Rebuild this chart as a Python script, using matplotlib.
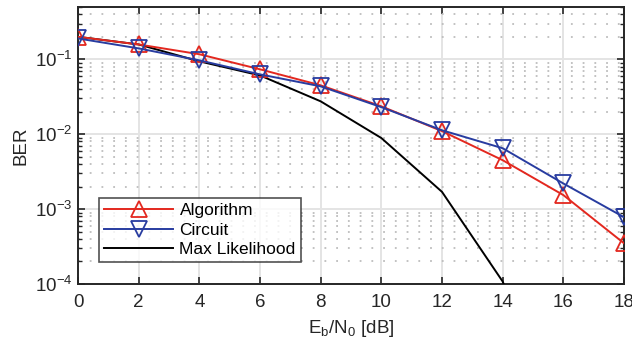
import matplotlib
matplotlib.use("Agg")
import matplotlib.pyplot as plt
import numpy as np
from matplotlib.ticker import LogLocator, NullFormatter

plt.rcParams['font.family'] = ['Liberation Sans', 'DejaVu Sans']
plt.rcParams['mathtext.fontset'] = 'custom'
plt.rcParams['mathtext.rm'] = 'Liberation Sans'
plt.rcParams['mathtext.it'] = 'Liberation Sans'

ebn0 = [0, 2, 4, 6, 8, 10, 12, 14, 16, 18]
ber_algorithm = [0.20, 0.158, 0.117, 0.0736, 0.045, 0.0236, 0.011, 0.0045, 0.00154, 0.00035]
ber_circuit = [0.19, 0.14, 0.097, 0.063, 0.0436, 0.023, 0.0113, 0.0065, 0.0022, 0.00078]
ml_x = [0, 2, 4, 6, 8, 10, 12, 14, 16]
ber_ml = [0.20, 0.158, 0.094, 0.061, 0.0275, 0.0089, 0.0017, 1.08e-4, 1e-6]

xticks = [0, 2, 4, 6, 8, 10, 12, 14, 16, 18]

fig = plt.figure(figsize=(6.32, 3.49), dpi=100)
ax = fig.add_axes([78/632, 1-284/349, (624-78)/632, (284-7)/349])

red = '#e3281f'
blue = '#283ca0'

ax.plot(ebn0, ber_algorithm, color=red, lw=1.4, marker='^', ms=11, mfc='none',
        mec=red, mew=1.3, label='Algorithm', zorder=4)
ax.plot(ebn0, ber_circuit, color=blue, lw=1.4, marker='v', ms=11, mfc='none',
        mec=blue, mew=1.3, label='Circuit', zorder=5)
ax.plot(ml_x, ber_ml, color='black', lw=1.4, label='Max Likelihood', zorder=3)

ax.set_yscale('log')
ax.set_xlim(0, 18)
ax.set_ylim(1e-4, 0.5)
ax.set_xticks(xticks)
ax.set_xticklabels([str(v) for v in xticks])
ax.yaxis.set_major_locator(LogLocator(base=10, numticks=10))
ax.yaxis.set_minor_locator(LogLocator(base=10, subs=np.arange(2, 10), numticks=20))
ax.yaxis.set_minor_formatter(NullFormatter())

ax.grid(True, which='major', color='#e4e4e4', lw=1.4, ls='-', zorder=0)
ax.grid(True, which='minor', axis='y', color='#bdbdbd', lw=1.3, ls=(0, (1, 5.5)), zorder=0)
ax.set_axisbelow(True)

for s in ax.spines.values():
    s.set_color('#262626')
    s.set_linewidth(1.4)

ax.tick_params(which='both', direction='in', top=True, right=True, colors='#262626',
               labelcolor='#262626', labelsize=13.5)
ax.tick_params(which='major', length=5, width=1.2)
ax.tick_params(which='minor', length=3, width=1.0)
ax.tick_params(axis='x', pad=7)
ax.tick_params(axis='y', pad=4)

ax.set_xlabel('E$_\\mathregular{b}$/N$_\\mathregular{0}$ [dB]', fontsize=13.5, color='#262626', labelpad=5)
ax.set_ylabel('BER', fontsize=13.5, color='#262626', labelpad=4)

leg = ax.legend(loc='lower left', bbox_to_anchor=(0.038, 0.078), fontsize=12.5,
                handlelength=4.0, handletextpad=0.35, labelspacing=0.25,
                borderpad=0.3, borderaxespad=0, frameon=True, fancybox=False,
                edgecolor='#262626')
leg.get_frame().set_linewidth(1.2)

fig.savefig('out.png', dpi=100)
